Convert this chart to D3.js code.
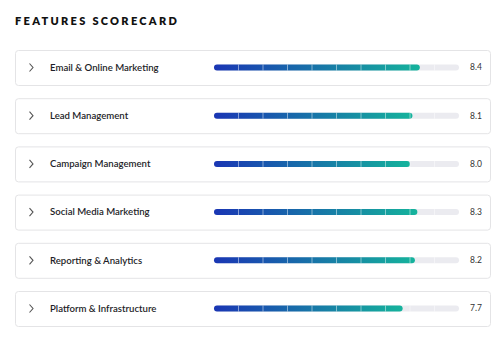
<!DOCTYPE html>
<html><head><meta charset="utf-8">
<script src="https://cdn.jsdelivr.net/npm/d3@7"></script>
<style>
html,body{margin:0;padding:0;background:#fff;}
svg{display:block;}
</style></head>
<body>
<svg id="chart" width="499" height="364"></svg>
<script>
const categories = ["Email & Online Marketing","Lead Management","Campaign Management","Social Media Marketing","Reporting & Analytics","Platform & Infrastructure"];
const scores = [8.4, 8.1, 8.0, 8.3, 8.2, 7.7];
const title = "FEATURES SCORECARD";
const maxScore = 10;
const segmentTicks = d3.range(1, 10);

const svg = d3.select("#chart");
const defs = svg.append("defs");
const grad = defs.append("linearGradient").attr("id","g").attr("x1","0%").attr("x2","100%");
grad.append("stop").attr("offset","0%").attr("stop-color","#1a36b4");
grad.append("stop").attr("offset","100%").attr("stop-color","#15b39c");

svg.append("text").attr("x",15).attr("y",25)
  .attr("font-family","Lato, 'Open Sans', sans-serif").attr("font-weight",800)
  .attr("font-size",11).attr("letter-spacing",2.3).attr("fill","#111").text(title);

const y = d3.scaleBand().domain(categories).range([50, 326]).paddingInner(0.274).paddingOuter(0);
const x = d3.scaleLinear().domain([0, maxScore]).range([214, 459]);
const barH = 6;

const row = svg.selectAll("g.row").data(categories).join("g").attr("class","row")
  .attr("transform", d => `translate(0,${y(d)})`);
const h = y.bandwidth();

row.append("rect").attr("x",15.5).attr("y",0.5).attr("width",475).attr("height",h)
  .attr("rx",3).attr("fill","#fff").attr("stroke","#e4e4e6");

row.append("path").attr("d", `M${29.5},${h/2-4} L${33},${h/2} L${29.5},${h/2+4}`)
  .attr("fill","none").attr("stroke","#555").attr("stroke-width",1.1);

row.append("text").attr("x",50).attr("y",h/2).attr("dy","0.35em")
  .attr("font-family","Lato, 'Open Sans', sans-serif").attr("font-weight",600)
  .attr("font-size",9.6).attr("fill","#1e1e28").text(d=>d);

row.append("rect").attr("x",x(0)).attr("y",h/2-barH/2).attr("width",x(maxScore)-x(0)).attr("height",barH)
  .attr("rx",3).attr("fill","#ebebf0");

row.append("rect").attr("x",x(0)).attr("y",h/2-barH/2).attr("width",(d,i)=>x(scores[i])-x(0)).attr("height",barH)
  .attr("rx",3).attr("fill","url(#g)");

row.each(function(){
  d3.select(this).selectAll("line.seg").data(segmentTicks).join("line").attr("class","seg")
    .attr("x1",t=>x(t)).attr("x2",t=>x(t)).attr("y1",h/2-barH/2).attr("y2",h/2+barH/2)
    .attr("stroke","#fff").attr("stroke-opacity",0.6).attr("stroke-width",0.8);
});

row.append("text").attr("x",470).attr("y",h/2).attr("dy","0.35em")
  .attr("font-family","Lato, 'Open Sans', sans-serif").attr("font-size",8.5).attr("fill","#333")
  .text((d,i)=>scores[i].toFixed(1));
</script>
</body></html>
